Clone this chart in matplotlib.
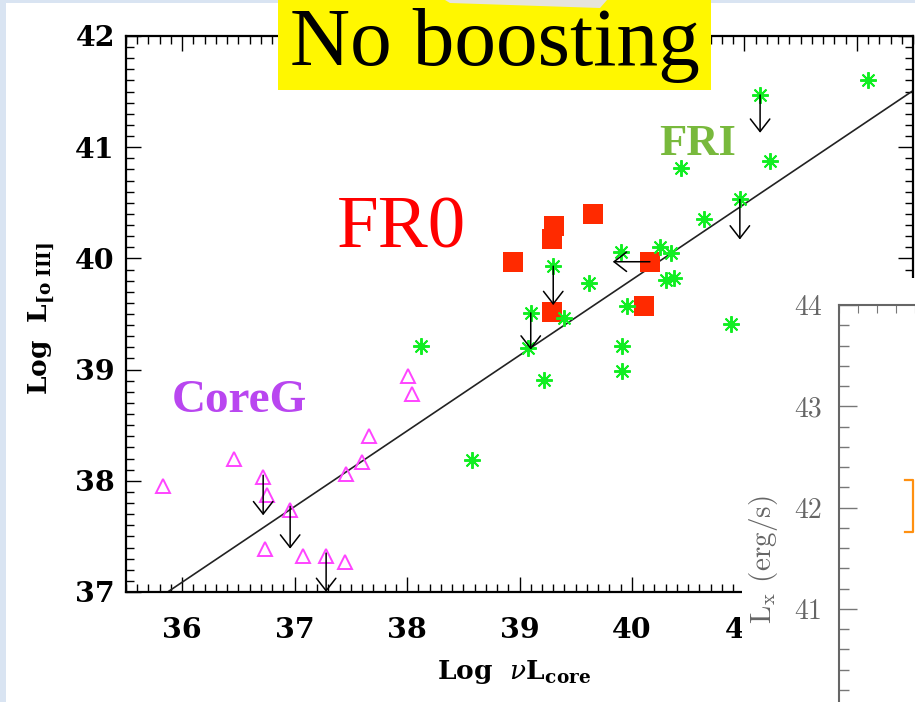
import numpy as np
import matplotlib
matplotlib.use("Agg")
import matplotlib.pyplot as plt
from matplotlib.patches import Rectangle, Polygon
from matplotlib.ticker import MultipleLocator

# -----------------------------------------------------------------------------
# Data
# -----------------------------------------------------------------------------
fr0_x = [38.94, 39.31, 39.29, 39.65, 40.16, 40.11, 39.29]
fr0_y = [39.97, 40.29, 40.17, 40.40, 39.97, 39.57, 39.52]

fri_x = [42.10, 41.14, 41.23, 40.44, 40.96, 40.64, 39.90, 40.25, 40.35, 40.30,
         40.37, 39.96, 40.88, 39.30, 39.62, 39.10, 39.08, 39.40, 39.91, 39.91,
         39.22, 38.12, 38.58]
fri_y = [41.60, 41.47, 40.88, 40.81, 40.53, 40.35, 40.06, 40.10, 40.05, 39.81,
         39.82, 39.57, 39.41, 39.93, 39.78, 39.51, 39.19, 39.46, 39.21, 38.99,
         38.91, 39.21, 38.19]

coreg_x = [35.83, 36.46, 36.72, 36.75, 36.96, 36.74, 37.07, 37.28, 37.45, 37.46,
           37.60, 37.66, 38.01, 38.04]
coreg_y = [37.95, 38.20, 38.03, 37.87, 37.74, 37.39, 37.32, 37.32, 37.27, 38.06,
           38.17, 38.40, 38.94, 38.78]

# upper limits (vertical arrows)
ul_x = [41.14, 40.96, 39.30, 39.10, 36.72, 36.96, 37.28]
ul_top = [41.47, 40.53, 39.93, 39.51, 38.05, 37.77, 37.35]
ul_bot = [41.13, 40.17, 39.58, 39.18, 37.69, 37.39, 37.00]
# upper limit on x (horizontal arrow)
xl_start = 40.16
xl_end = 39.83
xl_y = 39.97

fit_slope = 0.68
fit_x0 = 35.87   # line reaches y = 37 here

inset_ticks = [41, 42, 43, 44]

W, H = 915, 702


def fx(px):
    return px / W


def fy(py):
    return 1 - py / H


fig = plt.figure(figsize=(W / 100, H / 100), dpi=100)
fig.patch.set_facecolor('#d9e4f2')
# white slide panel
fig.patches.append(Rectangle((fx(6), 0), 1, fy(3), transform=fig.transFigure,
                             facecolor='white', edgecolor='none', zorder=-5))

# -----------------------------------------------------------------------------
# Main panel
# -----------------------------------------------------------------------------
ax = fig.add_axes([fx(126), fy(592), fx(913) - fx(126), fy(36) - fy(592)])
ax.set_xlim(35.5, 42.5)
ax.set_ylim(37, 42)

ax.xaxis.set_major_locator(MultipleLocator(1))
ax.xaxis.set_minor_locator(MultipleLocator(0.1))
ax.yaxis.set_major_locator(MultipleLocator(1))
ax.yaxis.set_minor_locator(MultipleLocator(0.1))
ax.tick_params(which='both', direction='in', top=True, right=True, width=1.0, color='k')
ax.tick_params(which='major', length=11)
ax.tick_params(which='minor', length=5.5)
ax.tick_params(axis='x', pad=18)
ax.tick_params(axis='y', pad=8)
for s in ax.spines.values():
    s.set_linewidth(1.6)
for lab in ax.get_xticklabels() + ax.get_yticklabels():
    lab.set_family('DejaVu Serif')
    lab.set_fontweight('bold')
    lab.set_fontsize(20.5)

xx = np.array(ax.get_xlim())
ax.plot(xx, 37 + fit_slope * (xx - fit_x0), color='#222222', lw=1.2, zorder=2)

ax.plot(coreg_x, coreg_y, ls='none', marker='^', ms=10, mfc='none',
        mec='#ff44ff', mew=1.4, zorder=3)
ax.plot(fr0_x, fr0_y, ls='none', marker='s', ms=15, mfc='#ff2a00',
        mec='none', mew=0, zorder=3)
ax.plot(fri_x, fri_y, ls='none', marker=(8, 2, 0), ms=12, mec='#11ee22',
        mfc='#11ee22', mew=1.4, zorder=4)

arrow_kw = dict(arrowstyle='->,head_length=0.45,head_width=0.35', color='k',
                lw=1.1, shrinkA=0, shrinkB=0, mutation_scale=20)
for x, y0, y1 in zip(ul_x, ul_top, ul_bot):
    ax.annotate('', xy=(x, y1), xytext=(x, y0), arrowprops=arrow_kw, zorder=5)
ax.annotate('', xy=(xl_end, xl_y), xytext=(xl_start, xl_y), arrowprops=arrow_kw, zorder=5)

ax.text(37.38, 40.10, 'FR0', color='red', fontsize=54, family='Liberation Serif')
ax.text(40.24, 40.93, 'FRI', color='#78b93c', fontsize=32, fontweight='bold',
        family='Liberation Serif')
ax.text(35.91, 38.62, 'CoreG', color='#b946f0', fontsize=34, fontweight='bold',
        family='Liberation Serif')

fig.text(fx(514), fy(672), r'Log  $\nu$L$_{\bf core}$', ha='center', va='center',
         fontsize=19, fontweight='bold', family='DejaVu Serif',
         math_fontfamily='dejavuserif')
fig.text(fx(42), fy(318), r'Log  L$_{\bf [o\ III]}$', ha='center', va='center',
         rotation=90, fontsize=19, fontweight='bold', family='DejaVu Serif',
         math_fontfamily='dejavuserif')

# -----------------------------------------------------------------------------
# "No boosting" banner
# -----------------------------------------------------------------------------
fig.patches.append(Rectangle((fx(278), fy(90)), fx(711) - fx(278), fy(0) - fy(90),
                             transform=fig.transFigure, facecolor='#fff700',
                             edgecolor='none', zorder=10))
fig.patches.append(Polygon([(fx(445), fy(0)), (fx(607), fy(0)), (fx(600), fy(8)),
                            (fx(450), fy(3))], closed=True, transform=fig.transFigure,
                           facecolor='#e6e4dc', edgecolor='none', zorder=11))
fig.text(fx(495), fy(65), 'No boosting', ha='center', va='baseline', fontsize=60,
         family='Liberation Serif', color='black', zorder=12)

# -----------------------------------------------------------------------------
# Overlapping second panel (cropped)
# -----------------------------------------------------------------------------
fig.patches.append(Rectangle((fx(742), 0), 1, fy(278), transform=fig.transFigure,
                             facecolor='white', edgecolor='none', zorder=10))
ins_bottom = -0.2
ins_top = fy(305)
ins_h = ins_top - ins_bottom
ax2 = fig.add_axes([fx(839), ins_bottom, 0.2, ins_h], zorder=20)
ax2.patch.set_alpha(0)
ax2.set_ylim(44 - ins_h * H / 101.3, 44)
ax2.set_xlim(0, 0.2 * W / 19.0)
ax2.spines['right'].set_visible(False)
ax2.spines['bottom'].set_visible(False)
for s in ('left', 'top'):
    ax2.spines[s].set_color('#666666')
    ax2.spines[s].set_linewidth(1.5)
ax2.set_yticks(inset_ticks)
ax2.yaxis.set_minor_locator(MultipleLocator(0.2))
ax2.xaxis.set_major_locator(MultipleLocator(1))
ax2.xaxis.tick_top()
ax2.tick_params(axis='x', which='both', direction='in', length=6, color='#777777',
                labeltop=False, labelbottom=False)
ax2.tick_params(axis='y', which='major', direction='in', length=13, color='#777777',
                width=1.0, pad=12, labelsize=20, labelcolor='#666666')
ax2.tick_params(axis='y', which='minor', direction='in', length=7, color='#777777',
                width=1.0)
for lab in ax2.get_yticklabels():
    lab.set_family('cmr10')
# cropped orange box edge at the right border
ax2.plot([3.45, 3.9, 3.9, 3.45], [42.27, 42.27, 41.76, 41.76], color='#ff9010',
         lw=1.6, clip_on=False)
fig.text(fx(763), fy(560), r'L$_{\rm x}$ (erg/s)', ha='center', va='center',
         rotation=90, fontsize=21, family='cmr10', color='#666666',
         math_fontfamily='cm', zorder=21)

fig.savefig('out.png', dpi=100, facecolor=fig.get_facecolor())
